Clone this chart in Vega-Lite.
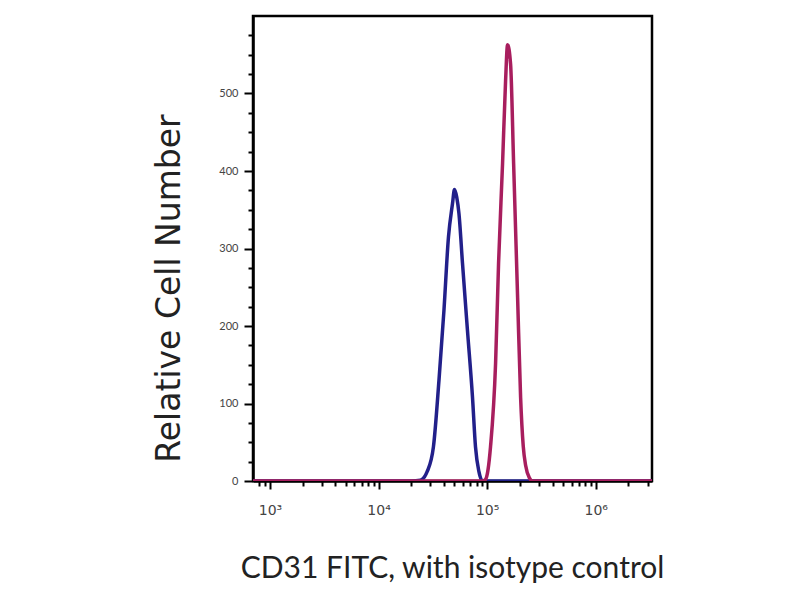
{
  "$schema": "https://vega.github.io/schema/vega-lite/v6.json",
  "autosize": {"type": "none"},
  "padding": {"left": 253, "top": 16, "right": 148, "bottom": 119},
  "width": 399,
  "height": 465,
  "background": "white",
  "config": {
    "view": {"stroke": "black", "strokeWidth": 2.5},
    "axis": {"domainColor": "black", "tickColor": "black", "labelColor": "#444444", "titleColor": "#222222", "grid": false}
  },
  "datasets": {
    "hist": [
      {"series": "Isotype control", "intensity": 697, "count": 0},
      {"series": "Isotype control", "intensity": 20000, "count": 0},
      {"series": "Isotype control", "intensity": 24270, "count": 1},
      {"series": "Isotype control", "intensity": 28000, "count": 12},
      {"series": "Isotype control", "intensity": 32000, "count": 44},
      {"series": "Isotype control", "intensity": 36000, "count": 130},
      {"series": "Isotype control", "intensity": 40000, "count": 220},
      {"series": "Isotype control", "intensity": 44040, "count": 315},
      {"series": "Isotype control", "intensity": 47970, "count": 358},
      {"series": "Isotype control", "intensity": 50000, "count": 376},
      {"series": "Isotype control", "intensity": 52500, "count": 366},
      {"series": "Isotype control", "intensity": 55000, "count": 345},
      {"series": "Isotype control", "intensity": 59270, "count": 281},
      {"series": "Isotype control", "intensity": 65900, "count": 194},
      {"series": "Isotype control", "intensity": 73300, "count": 108},
      {"series": "Isotype control", "intensity": 78100, "count": 44},
      {"series": "Isotype control", "intensity": 84000, "count": 12},
      {"series": "Isotype control", "intensity": 90700, "count": 0},
      {"series": "Isotype control", "intensity": 3300000, "count": 0},
      {"series": "CD31 FITC", "intensity": 697, "count": 0},
      {"series": "CD31 FITC", "intensity": 90700, "count": 0},
      {"series": "CD31 FITC", "intensity": 96600, "count": 2},
      {"series": "CD31 FITC", "intensity": 102000, "count": 15},
      {"series": "CD31 FITC", "intensity": 107400, "count": 44},
      {"series": "CD31 FITC", "intensity": 119600, "count": 152},
      {"series": "CD31 FITC", "intensity": 127400, "count": 281},
      {"series": "CD31 FITC", "intensity": 138700, "count": 410},
      {"series": "CD31 FITC", "intensity": 147800, "count": 516},
      {"series": "CD31 FITC", "intensity": 154200, "count": 563},
      {"series": "CD31 FITC", "intensity": 164400, "count": 538},
      {"series": "CD31 FITC", "intensity": 175300, "count": 410},
      {"series": "CD31 FITC", "intensity": 190800, "count": 237},
      {"series": "CD31 FITC", "intensity": 203300, "count": 108},
      {"series": "CD31 FITC", "intensity": 215000, "count": 45},
      {"series": "CD31 FITC", "intensity": 226300, "count": 20},
      {"series": "CD31 FITC", "intensity": 245000, "count": 4},
      {"series": "CD31 FITC", "intensity": 262600, "count": 0},
      {"series": "CD31 FITC", "intensity": 3300000, "count": 0}
    ]
  },
  "data": {"name": "hist"},
  "mark": {"type": "line", "strokeWidth": 3.5, "interpolate": "monotone", "clip": true},
  "encoding": {
    "x": {
      "field": "intensity",
      "type": "quantitative",
      "scale": {"type": "log", "domain": [697, 3300000], "nice": false},
      "axis": {
        "title": "CD31 FITC, with isotype control",
        "titleFont": "Lato",
        "titleFontSize": 30,
        "titleFontWeight": "normal",
        "titleX": 199,
        "titleY": 96,
        "titleBaseline": "alphabetic",
        "domainWidth": 2.5,
        "values": [800, 900, 1000, 2000, 3000, 4000, 5000, 6000, 7000, 8000, 9000, 10000, 20000, 30000, 40000, 50000, 60000, 70000, 80000, 90000, 100000, 200000, 300000, 400000, 500000, 600000, 700000, 800000, 900000, 1000000, 2000000, 3000000],
        "labelExpr": "datum.value == 1000 ? '10³' : datum.value == 10000 ? '10⁴' : datum.value == 100000 ? '10⁵' : datum.value == 1000000 ? '10⁶' : ''",
        "labelFont": "DejaVu Sans",
        "labelFontSize": 14,
        "labelPadding": 14,
        "labelOverlap": false,
        "labelFlush": false,
        "tickWidth": 2,
        "tickSize": {"condition": {"test": "datum.value == 1000 || datum.value == 10000 || datum.value == 100000 || datum.value == 1000000", "value": 8}, "value": 5}
      }
    },
    "y": {
      "field": "count",
      "type": "quantitative",
      "scale": {"domain": [0, 600], "nice": false},
      "axis": {
        "title": "Relative Cell Number",
        "titleFont": "DejaVu Sans",
        "titleFontSize": 33,
        "titleFontWeight": "normal",
        "titleAngle": -90,
        "titleBaseline": "middle",
        "titleX": -84,
        "titleY": 272,
        "domainWidth": 2.5,
        "values": [0, 25, 50, 75, 100, 125, 150, 175, 200, 225, 250, 275, 300, 325, 350, 375, 400, 425, 450, 475, 500, 525, 550, 575],
        "labelExpr": "datum.value % 100 == 0 ? datum.label : ''",
        "labelFont": "Lato",
        "labelFontSize": 11,
        "labelPadding": 6,
        "tickWidth": 2,
        "tickSize": {"condition": {"test": "datum.value % 100 == 0", "value": 9}, "value": 5}
      }
    },
    "color": {
      "field": "series",
      "type": "nominal",
      "scale": {"domain": ["Isotype control", "CD31 FITC"], "range": ["#22208a", "#a81e5e"]},
      "legend": null
    },
    "order": {"field": "series", "sort": "descending"}
  }
}
